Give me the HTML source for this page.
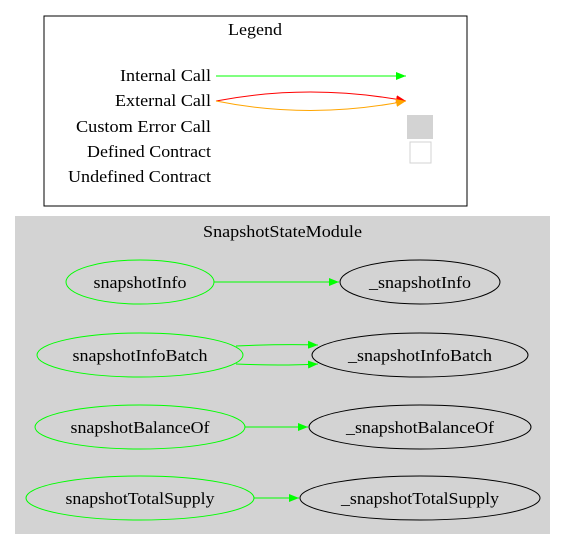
<!DOCTYPE html>
<html><head><style>body{margin:0;background:#fff}svg{display:block}</style></head><body>
<svg width="566" height="549" viewBox="0 0 566 549" xmlns="http://www.w3.org/2000/svg" font-family="Liberation Serif, serif" font-size="17">
<defs>
<marker id="g" markerWidth="10" markerHeight="8" refX="10" refY="4" orient="auto" markerUnits="userSpaceOnUse"><path d="M0,0L10,4L0,8z" fill="#0f0"/></marker>
<marker id="r" markerWidth="10" markerHeight="8" refX="10" refY="4" orient="auto" markerUnits="userSpaceOnUse"><path d="M0,0L10,4L0,8z" fill="red"/></marker>
<marker id="o" markerWidth="10" markerHeight="8" refX="10" refY="4" orient="auto" markerUnits="userSpaceOnUse"><path d="M0,0L10,4L0,8z" fill="orange"/></marker>
</defs>
<rect x="44" y="16" width="423" height="190" fill="#fff" stroke="#000"/>
<text x="228" y="35" textLength="54" lengthAdjust="spacingAndGlyphs">Legend</text>
<text x="120" y="81" textLength="91" lengthAdjust="spacingAndGlyphs">Internal Call</text>
<text x="115" y="106" textLength="96" lengthAdjust="spacingAndGlyphs">External Call</text>
<text x="76" y="132" textLength="135" lengthAdjust="spacingAndGlyphs">Custom Error Call</text>
<text x="87" y="157" textLength="124" lengthAdjust="spacingAndGlyphs">Defined Contract</text>
<text x="68" y="182" textLength="143" lengthAdjust="spacingAndGlyphs">Undefined Contract</text>
<line x1="216" y1="76" x2="406" y2="76" stroke="#0f0" marker-end="url(#g)"/>
<path d="M216,101 Q310,83 406,101" fill="none" stroke="red" marker-end="url(#r)"/>
<path d="M216,101 Q310,120 406,101" fill="none" stroke="orange" marker-end="url(#o)"/>
<rect x="407" y="115" width="26" height="24" fill="#d3d3d3"/>
<rect x="410" y="142" width="21" height="21" fill="#fff" stroke="#d3d3d3"/>
<rect x="15" y="216" width="535" height="318" fill="#d3d3d3"/>
<text x="203" y="237" textLength="159" lengthAdjust="spacingAndGlyphs">SnapshotStateModule</text>
<g fill="none" stroke="#0f0">
<ellipse cx="140" cy="282" rx="74" ry="22"/>
<ellipse cx="140" cy="355" rx="103" ry="22"/>
<ellipse cx="140" cy="427" rx="105" ry="22"/>
<ellipse cx="140" cy="498" rx="114" ry="22"/>
</g>
<g fill="none" stroke="#000">
<ellipse cx="420" cy="282" rx="80" ry="22"/>
<ellipse cx="420" cy="355" rx="108" ry="22"/>
<ellipse cx="420" cy="427" rx="111" ry="22"/>
<ellipse cx="420" cy="498" rx="120" ry="22"/>
</g>
<g stroke="#0f0" fill="none">
<line x1="214" y1="282" x2="339" y2="282" marker-end="url(#g)"/>
<path d="M236,346 Q280,344 318,345" marker-end="url(#g)"/>
<path d="M236,364 Q280,366 318,364" marker-end="url(#g)"/>
<line x1="245" y1="427" x2="308" y2="427" marker-end="url(#g)"/>
<line x1="254" y1="498" x2="299" y2="498" marker-end="url(#g)"/>
</g>
<g text-anchor="middle" lengthAdjust="spacingAndGlyphs">
<text x="140" y="288" textLength="93" lengthAdjust="spacingAndGlyphs">snapshotInfo</text>
<text x="140" y="361" textLength="135" lengthAdjust="spacingAndGlyphs">snapshotInfoBatch</text>
<text x="140" y="433" textLength="139" lengthAdjust="spacingAndGlyphs">snapshotBalanceOf</text>
<text x="140" y="504" textLength="149" lengthAdjust="spacingAndGlyphs">snapshotTotalSupply</text>
<text x="420" y="288" textLength="102" lengthAdjust="spacingAndGlyphs">_snapshotInfo</text>
<text x="420" y="361" textLength="144" lengthAdjust="spacingAndGlyphs">_snapshotInfoBatch</text>
<text x="420" y="433" textLength="148" lengthAdjust="spacingAndGlyphs">_snapshotBalanceOf</text>
<text x="420" y="504" textLength="158" lengthAdjust="spacingAndGlyphs">_snapshotTotalSupply</text>
</g>
</svg>
</body></html>
